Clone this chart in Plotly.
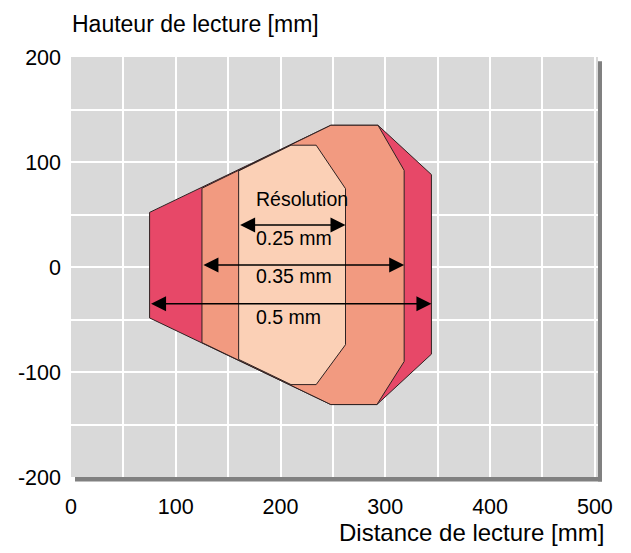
import plotly.graph_objects as go

# Reading field polygons (distance x [mm], height y [mm])
res_05_x = [75, 248, 293, 344, 344, 292, 248, 75]
res_05_y = [52, 135, 135, 88, -83, -131, -131, -48.5]

res_035_x = [125, 248, 293, 318, 318, 292, 248, 125]
res_035_y = [75, 135, 135, 92, -90, -131, -131, -72]

res_025_x = [160, 210, 234, 262, 262, 234, 210, 160]
res_025_y = [91.5, 116, 116, 74.6, -74, -112, -112, -88]

# Resolution arrows: label, y level, x start, x end, label y
arrow_labels = ["0.25 mm", "0.35 mm", "0.5 mm"]
arrow_y = [40, 2, -35]
arrow_x0 = [160, 125, 75]
arrow_x1 = [262, 318, 344]
label_y = [28, -8.5, -47.5]
label_x = 174.5
title_text = "Résolution"
title_y = 64.5

x_ticks = [0, 100, 200, 300, 400, 500]
x_tick_text = ["0", "100", "200", "300", "400", "500"]
y_ticks = [-200, -100, 0, 100, 200]
y_tick_text = ["-200", "-100", "0", "100", "200"]

col_05 = "#E74868"
col_035 = "#F29A80"
col_025 = "#FBD0B6"
edge = "#2e2222"

fig = go.Figure()
for xs, ys, c in [(res_05_x, res_05_y, col_05),
                  (res_035_x, res_035_y, col_035),
                  (res_025_x, res_025_y, col_025)]:
    fig.add_trace(go.Scatter(x=xs + [xs[0]], y=ys + [ys[0]], mode="lines",
                             fill="toself", fillcolor=c,
                             line=dict(color=edge, width=1),
                             hoverinfo="skip", showlegend=False))

font_txt = dict(family="Liberation Sans, Arial, sans-serif", size=19.5, color="black")

fig.add_annotation(x=label_x, y=title_y, text=title_text, showarrow=False,
                   xanchor="left", yanchor="middle", font=font_txt)
for lab, yv, x0, x1, ly in zip(arrow_labels, arrow_y, arrow_x0, arrow_x1, label_y):
    fig.add_annotation(x=x1, y=yv, ax=x0, ay=yv, axref="x", ayref="y",
                       xref="x", yref="y", text="", showarrow=True,
                       arrowside="end+start", arrowhead=2, arrowsize=2.0,
                       arrowwidth=1.5, arrowcolor="black", standoff=0, startstandoff=0)
    fig.add_annotation(x=label_x, y=ly, text=lab, showarrow=False,
                       xanchor="left", yanchor="middle", font=font_txt)

# axis titles
fig.add_annotation(x=-0.001, y=1.0, xref="paper", yref="paper", yshift=48,
                   text="Hauteur de lecture [mm]", showarrow=False,
                   xanchor="left", yanchor="top",
                   font=dict(family="Liberation Sans, Arial, sans-serif", size=23, color="black"))
fig.add_annotation(x=1.016, y=0, xref="paper", yref="paper", yshift=-55,
                   text="Distance de lecture [mm]", showarrow=False,
                   xanchor="right", yanchor="middle",
                   font=dict(family="Liberation Sans, Arial, sans-serif", size=24, color="black"))

# drop shadow of the plot area
fig.add_shape(type="rect", xref="paper", yref="paper", x0=1.0, x1=1.0076,
              y0=-0.0105, y1=0.99, fillcolor="#808080", line=dict(width=0), layer="below")
fig.add_shape(type="rect", xref="paper", yref="paper", x0=0.0076, x1=1.0076,
              y0=-0.0105, y1=0.0, fillcolor="#808080", line=dict(width=0), layer="below")

tickfont = dict(family="Liberation Sans, Arial, sans-serif", size=21.5, color="black")
fig.update_xaxes(range=[0, 503], tickvals=x_ticks, ticktext=x_tick_text,
                 showgrid=True, gridcolor="white", automargin=False,
                 gridwidth=2, zeroline=False, showline=False, ticks="",
                 tickfont=tickfont, ticklabelstandoff=14,
                 minor=dict(dtick=50, tick0=0, showgrid=True, gridcolor="white", gridwidth=2))
fig.update_yaxes(range=[-200, 200], tickvals=y_ticks, ticktext=y_tick_text,
                 showgrid=True, gridcolor="white", automargin=False,
                 gridwidth=2, zeroline=False, showline=False, ticks="",
                 tickfont=tickfont, ticklabelstandoff=9,
                 minor=dict(dtick=50, tick0=0, showgrid=True, gridcolor="white", gridwidth=2))

# the page body adds an 8px offset, so margins are reduced by 8px
fig.update_layout(width=631, height=553, margin=dict(l=63, r=41, t=49, b=84),
                  plot_bgcolor="#D9D9D9", paper_bgcolor="white", showlegend=False)

fig.write_html("out.html")
